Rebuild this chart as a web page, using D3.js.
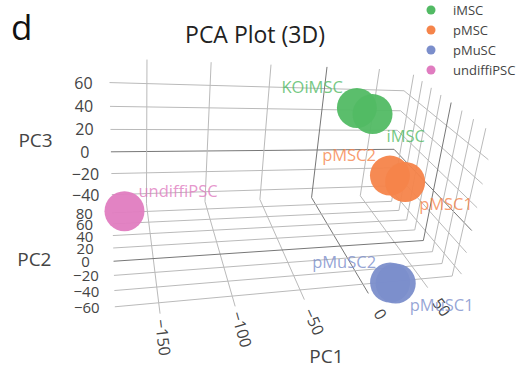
<!DOCTYPE html>
<html>
<head>
<meta charset="utf-8">
<script src="https://cdn.jsdelivr.net/npm/d3@7"></script>
<style>
  body { margin: 0; background: #fff; }
  text { font-family: "Open Sans", sans-serif; }
</style>
</head>
<body>
<svg id="chart"></svg>
<script>
// samples of the PCA
const samples = ["KOiMSC", "iMSC", "pMSC2", "pMSC1", "pMuSC2", "pMuSC1", "undiffiPSC"];
const groups = ["iMSC", "iMSC", "pMSC", "pMSC", "pMuSC", "pMuSC", "undiffiPSC"];
const pc1 = [2, 16, 55, 60, 21, 25, -170];
const pc2 = [12, 12, 44, 21, -64, -66, 0];
const pc3 = [70, 65, -5, -1, -48, -48, -8];
const textPos = ["top left", "bottom right", "top left", "bottom right", "top left", "bottom right", "top right"];

const legendGroups = ["iMSC", "pMSC", "pMuSC", "undiffiPSC"];
const groupColors = ["#52ba64", "#f5844a", "#7b8ecb", "#e07cc0"];

const pc1Ticks = [-150, -100, -50, 0, 50];
const pc2Ticks = [80, 60, 40, 20, 0, -20, -40, -60];
const pc3Ticks = [60, 40, 20, 0, -20, -40];

const width = 528, height = 373;
const svg = d3.select("#chart").attr("width", width).attr("height", height);

const color = d3.scaleOrdinal().domain(legendGroups).range(groupColors);
const fmt = d3.format("d");

// scene ranges, normalised to 0..1
const x1 = d3.scaleLinear().domain([-178, 78]).range([0, 1]);
const x2 = d3.scaleLinear().domain([95, -73]).range([0, 1]);
const x3 = d3.scaleLinear().domain([-50, 80]).range([0, 1]);
const [p1min, p1max] = x1.domain();
const [p2max, p2min] = x2.domain();
const [p3min, p3max] = x3.domain();

// camera: image of back-bottom-left corner, then vanishing point + weight per axis
const origin = [112, 205];
const vanish = [[2000, 135, 0.17], [102, -156, -0.2384], [141.3, 1640, -0.0929]];

function project(a, b, c) {
  const t = [x1(a), x2(b), x3(c)];
  let nx = origin[0], ny = origin[1], w = 1;
  t.forEach((v, i) => {
    const [vx, vy, k] = vanish[i];
    nx += k * v * vx; ny += k * v * vy; w += k * v;
  });
  return [nx / w, ny / w];
}

// grid on the three back planes
const lines = [];
pc3Ticks.forEach(v => {
  lines.push({ a: [p1min, p2max, v], b: [p1max, p2max, v], zero: v === 0 });
  lines.push({ a: [p1max, p2max, v], b: [p1max, p2min, v], zero: v === 0 });
});
pc1Ticks.forEach(v => {
  lines.push({ a: [v, p2max, p3min], b: [v, p2max, p3max], zero: v === 0 });
  lines.push({ a: [v, p2max, p3min], b: [v, p2min, p3min], zero: v === 0 });
});
pc2Ticks.forEach(v => {
  lines.push({ a: [p1min, v, p3min], b: [p1max, v, p3min], zero: v === 0 });
  lines.push({ a: [p1max, v, p3min], b: [p1max, v, p3max], zero: v === 0 });
});

svg.append("g")
  .attr("fill", "none")
  .selectAll("line")
  .data(lines)
  .join("line")
  .each(function(d) {
    const p = project(...d.a), q = project(...d.b);
    d3.select(this).attr("x1", p[0]).attr("y1", p[1]).attr("x2", q[0]).attr("y2", q[1]);
  })
  .attr("stroke", d => d.zero ? "#777" : "#bababa")
  .attr("stroke-width", 1);

// tick labels
const ticks = svg.append("g").attr("fill", "#444").attr("font-size", 16);

ticks.selectAll(".t3")
  .data(pc3Ticks)
  .join("text")
  .attr("class", "t3")
  .attr("x", d => project(p1min, p2max, d)[0] - 26)
  .attr("y", d => project(p1min, p2max, d)[1])
  .attr("text-anchor", "middle")
  .attr("dominant-baseline", "central")
  .text(fmt);

ticks.selectAll(".t2")
  .data(pc2Ticks)
  .join("text")
  .attr("class", "t2")
  .attr("x", d => project(p1min, d, p3min)[0] - 28)
  .attr("y", d => project(p1min, d, p3min)[1])
  .attr("text-anchor", "middle")
  .attr("dominant-baseline", "central")
  .attr("font-size", 15)
  .text(fmt);

ticks.selectAll(".t1")
  .data(pc1Ticks)
  .join("text")
  .attr("class", "t1")
  .attr("transform", d => {
    const p = project(d, p2min + 15, p3min), q = project(d, p2min, p3min);
    const dx = q[0] - p[0], dy = q[1] - p[1], len = Math.hypot(dx, dy);
    const ang = Math.atan2(dy, dx) * 180 / Math.PI;
    return `translate(${q[0] + dx / len * 24},${q[1] + dy / len * 24}) rotate(${ang})`;
  })
  .attr("text-anchor", "middle")
  .attr("dominant-baseline", "central")
  .text(fmt);

// axis titles
const titles = [
  { text: "PC3", at: project(p1min, p2max, (p3min + p3max) / 2), dx: -75, dy: 5 },
  { text: "PC2", at: project(p1min, (p2min + p2max) / 2, p3min), dx: -79, dy: 5 },
  { text: "PC1", at: project((p1min + p1max) / 2, p2min, p3min), dx: 22, dy: 56 }
];
svg.append("g")
  .selectAll("text")
  .data(titles)
  .join("text")
  .attr("x", d => d.at[0] + d.dx)
  .attr("y", d => d.at[1] + d.dy)
  .attr("text-anchor", "middle")
  .attr("dominant-baseline", "central")
  .attr("fill", "#444")
  .attr("font-size", 19)
  .text(d => d.text);

// points
const pts = samples.map((s, i) => ({
  name: s, group: groups[i], pos: textPos[i],
  xy: project(pc1[i], pc2[i], pc3[i])
}));

svg.append("g")
  .attr("font-size", 16.5)
  .selectAll("text")
  .data(pts)
  .join("text")
  .attr("x", d => d.xy[0] + (d.pos.endsWith("left") ? -14 : 14))
  .attr("y", d => d.xy[1] + (d.pos.startsWith("top") ? -21 : 21))
  .attr("text-anchor", d => d.pos.endsWith("left") ? "end" : "start")
  .attr("dominant-baseline", "central")
  .attr("fill", d => color(d.group))
  .attr("fill-opacity", 0.8)
  .text(d => d.name);

svg.append("g")
  .selectAll("circle")
  .data(pts)
  .join("circle")
  .attr("cx", d => d.xy[0])
  .attr("cy", d => d.xy[1])
  .attr("r", 20)
  .attr("fill", d => color(d.group))
  .attr("fill-opacity", 0.95);

// title and panel letter
svg.append("text")
  .attr("x", 255).attr("y", 43)
  .attr("text-anchor", "middle")
  .attr("font-family", "Liberation Sans, Arial, sans-serif")
  .attr("font-size", 23)
  .attr("fill", "#222")
  .text("PCA Plot (3D)");

svg.append("text")
  .attr("x", 11).attr("y", 40)
  .attr("font-family", "Liberation Sans, Arial, sans-serif")
  .attr("font-size", 35)
  .attr("fill", "#111")
  .text("d");

// legend
const legend = svg.append("g")
  .selectAll("g")
  .data(legendGroups)
  .join("g")
  .attr("transform", (d, i) => `translate(431,${10 + i * 20})`);
legend.append("circle").attr("r", 4.5).attr("fill", d => color(d));
legend.append("text")
  .attr("x", 22)
  .attr("dominant-baseline", "central")
  .attr("font-size", 13)
  .attr("fill", "#444")
  .text(d => d);
</script>
</body>
</html>
